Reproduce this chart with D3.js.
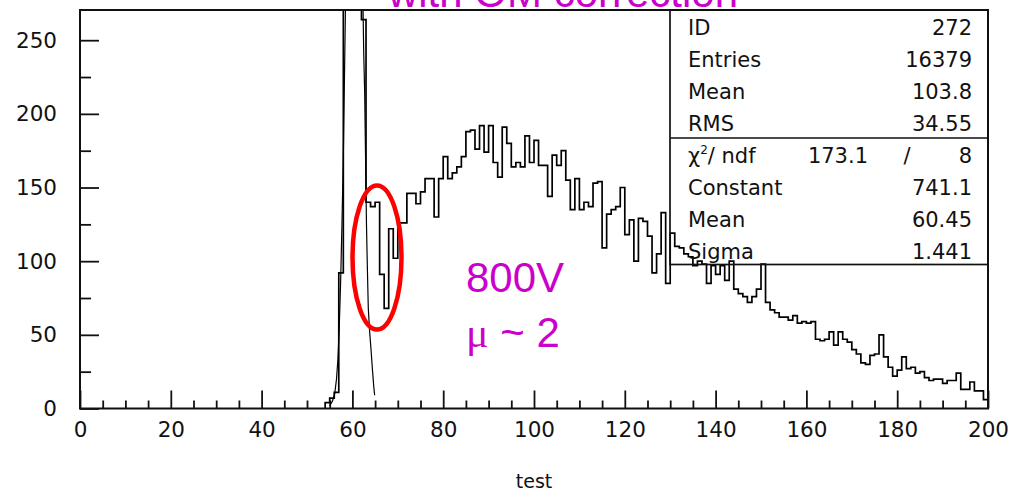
<!DOCTYPE html>
<html>
<head>
<meta charset="utf-8">
<script src="https://cdn.jsdelivr.net/npm/d3@7"></script>
<style>
  body { margin: 0; background: #fff; }
  svg { display: block; }
</style>
</head>
<body>
<div id="vis"></div>
<script>
// histogram "test", 1 unit bins (bins below 54 are empty)
const firstBin = 54;
const counts = [
    4, 7, 11, 92, 330, 560, 700, 520, 264, 140,
    137, 140, 91, 68, 122, 102, 126, 126, 146, 146,
    139, 147, 156, 156, 130, 156, 171, 156, 160, 164,
    171, 188, 189, 176, 192, 174, 192, 167, 157, 191,
    180, 164, 167, 164, 185, 167, 182, 165, 165, 144,
    172, 165, 175, 155, 135, 156, 135, 140, 137, 153,
    154, 109, 132, 135, 137, 150, 118, 128, 100, 129,
    127, 117, 92, 105, 133, 85, 119, 110, 109, 105,
    103, 97, 100, 98, 85, 97, 91, 97, 87, 100,
    81, 78, 76, 72, 76, 81, 98, 72, 67, 65,
    62, 62, 60, 63, 58, 59, 58, 59, 47, 46,
    47, 52, 43, 52, 47, 45, 40, 37, 31, 30,
    36, 37, 50, 35, 28, 22, 26, 35, 27, 28,
    24, 25, 21, 19, 20, 20, 17, 19, 19, 24,
    13, 13, 18, 12, 12, 6
];

// gaussian fit curve
const fitX = [55.0, 55.6, 56.1, 56.5, 56.8, 57.1, 57.4, 57.7, 58.0, 58.3, 58.6, 59.5, 60.45, 61.5,
              62.2, 62.5, 62.7, 62.9, 63.1, 63.3, 63.5, 63.8, 64.1, 64.4, 64.7, 64.9];
const fitY = [2, 5, 10, 20, 33, 55, 85, 125, 170, 235, 300, 590, 741, 560,
              300, 240, 215, 170, 125, 95, 68, 52, 40, 27, 15, 9];

const xMajor = [0, 20, 40, 60, 80, 100, 120, 140, 160, 180, 200];
const xMinor = d3.range(0, 201, 5).filter(v => v % 20 !== 0);
const yMajor = [0, 50, 100, 150, 200, 250];
const yMinor = [25, 75, 125, 175, 225];

const statLabels = ['ID', 'Entries', 'Mean', 'RMS'];
const statValues = ['272', '16379', '103.8', '34.55'];
const fitLabels = ['Constant', 'Mean', 'Sigma'];
const fitValues = ['741.1', '60.45', '1.441'];
const chi2 = '173.1';
const ndf = '8';

const width = 1014;
const height = 495;
const margin = { top: 10, right: 26, bottom: 86.5, left: 80 };
const font = 'DejaVu Sans, sans-serif';

const x = d3.scaleLinear()
    .domain([0, 200])
    .range([margin.left, width - margin.right]);

const y = d3.scaleLinear()
    .domain([0, 270.5])
    .range([height - margin.bottom, margin.top]);

const svg = d3.select('#vis')
    .append('svg')
    .attr('width', width)
    .attr('height', height);

svg.append('defs').append('clipPath')
    .attr('id', 'plot-clip')
    .append('rect')
    .attr('x', margin.left)
    .attr('y', margin.top)
    .attr('width', width - margin.left - margin.right)
    .attr('height', height - margin.top - margin.bottom);

// axes, ticks point inward like PAW
svg.append('g')
    .attr('class', 'major')
    .attr('transform', `translate(0, ${height - margin.bottom})`)
    .call(d3.axisBottom(x).tickValues(xMajor).tickSize(-18).tickPadding(13).tickFormat(d3.format('d')));
svg.append('g')
    .attr('transform', `translate(0, ${height - margin.bottom})`)
    .call(d3.axisBottom(x).tickValues(xMinor).tickSize(-8).tickFormat(''));

svg.append('g')
    .attr('class', 'major')
    .attr('transform', `translate(${margin.left}, 0)`)
    .call(d3.axisLeft(y).tickValues(yMajor).tickSize(-19).tickPadding(23));
svg.append('g')
    .attr('transform', `translate(${margin.left}, 0)`)
    .call(d3.axisLeft(y).tickValues(yMinor).tickSize(-11).tickFormat(''));

svg.selectAll('.domain').remove();
svg.selectAll('.tick line')
    .attr('stroke', '#111')
    .attr('stroke-width', 1.8);
svg.selectAll('.major .tick text')
    .attr('fill', '#111')
    .attr('font-family', font)
    .attr('font-size', '21.5px');

// histogram
const bins = counts.map((c, i) => ({ x: firstBin + i, y: c }));
bins.unshift({ x: firstBin, y: 0 });
bins.push({ x: 200, y: counts[counts.length - 1] });
bins.push({ x: 200, y: 0 });

const plotArea = svg.append('g').attr('clip-path', 'url(#plot-clip)');

plotArea.append('path')
    .datum(bins)
    .attr('fill', 'none')
    .attr('stroke', '#000')
    .attr('stroke-width', 1.7)
    .attr('d', d3.line().x(d => x(d.x)).y(d => y(d.y)).curve(d3.curveStepAfter));

plotArea.append('path')
    .datum(fitX.map((v, i) => [v, fitY[i]]))
    .attr('fill', 'none')
    .attr('stroke', '#000')
    .attr('stroke-width', 1.2)
    .attr('d', d3.line().x(d => x(d[0])).y(d => y(d[1])));

// frame
svg.append('rect')
    .attr('x', margin.left)
    .attr('y', margin.top)
    .attr('width', width - margin.left - margin.right)
    .attr('height', height - margin.top - margin.bottom)
    .attr('fill', 'none')
    .attr('stroke', '#111')
    .attr('stroke-width', 2);

// stats box
const boxLeft = 670;
const boxRight = width - margin.right;
const rowH = 32;
const box = svg.append('g');
box.append('rect')
    .attr('x', boxLeft)
    .attr('y', margin.top)
    .attr('width', boxRight - boxLeft)
    .attr('height', 254.5)
    .attr('fill', 'none')
    .attr('stroke', '#111')
    .attr('stroke-width', 1.7);
box.append('line')
    .attr('x1', boxLeft).attr('x2', boxRight)
    .attr('y1', 138).attr('y2', 138)
    .attr('stroke', '#111')
    .attr('stroke-width', 1.7);

const rowLabels = [...statLabels, null, ...fitLabels];
const rowValues = [...statValues, null, ...fitValues];
rowLabels.forEach((lab, i) => {
    if (lab === null) return;
    const yy = 35 + i * rowH;
    box.append('text')
        .attr('x', 688).attr('y', yy)
        .attr('font-family', font).attr('font-size', '21px').attr('fill', '#111')
        .text(lab);
    box.append('text')
        .attr('x', 972).attr('y', yy)
        .attr('text-anchor', 'end')
        .attr('font-family', font).attr('font-size', '21px').attr('fill', '#111')
        .text(rowValues[i]);
});

const chiY = 35 + 4 * rowH;
const chiText = box.append('text')
    .attr('x', 688).attr('y', chiY)
    .attr('font-family', font).attr('font-size', '21px').attr('fill', '#111');
chiText.append('tspan').text('χ');
chiText.append('tspan').attr('dy', -9).attr('font-size', '12px').text('2');
chiText.append('tspan').attr('dy', 9).text('/ ndf');
box.append('text')
    .attr('x', 868).attr('y', chiY)
    .attr('text-anchor', 'end')
    .attr('font-family', font).attr('font-size', '21px').attr('fill', '#111')
    .text(chi2);
box.append('text')
    .attr('x', 907).attr('y', chiY)
    .attr('text-anchor', 'middle')
    .attr('font-family', font).attr('font-size', '21px').attr('fill', '#111')
    .text('/');
box.append('text')
    .attr('x', 972).attr('y', chiY)
    .attr('text-anchor', 'end')
    .attr('font-family', font).attr('font-size', '21px').attr('fill', '#111')
    .text(ndf);

// axis title
svg.append('text')
    .attr('x', (margin.left + width - margin.right) / 2)
    .attr('y', 488)
    .attr('text-anchor', 'middle')
    .attr('font-family', font)
    .attr('font-size', '19px')
    .attr('fill', '#111')
    .text('test');

// slide annotations
const magenta = '#cc00cc';
svg.append('text')
    .attr('x', 563)
    .attr('y', 6.5)
    .attr('text-anchor', 'middle')
    .attr('font-family', 'Liberation Sans, Arial, sans-serif')
    .attr('font-size', '42px')
    .attr('fill', magenta)
    .text('with OM correction');

svg.append('text')
    .attr('x', 466)
    .attr('y', 292)
    .attr('font-family', 'Liberation Sans, Arial, sans-serif')
    .attr('font-size', '42px')
    .attr('fill', magenta)
    .text('800V');

const mu = svg.append('text')
    .attr('x', 466)
    .attr('y', 347)
    .attr('font-family', 'Liberation Sans, Arial, sans-serif')
    .attr('font-size', '42px')
    .attr('fill', magenta);
mu.append('tspan').attr('font-family', 'Liberation Serif, serif').text('μ');
mu.append('tspan').text(' ~ 2');

svg.append('ellipse')
    .attr('cx', 377)
    .attr('cy', 257.5)
    .attr('rx', 24.5)
    .attr('ry', 72)
    .attr('fill', 'none')
    .attr('stroke', '#ff0000')
    .attr('stroke-width', 4.5);
</script>
</body>
</html>
